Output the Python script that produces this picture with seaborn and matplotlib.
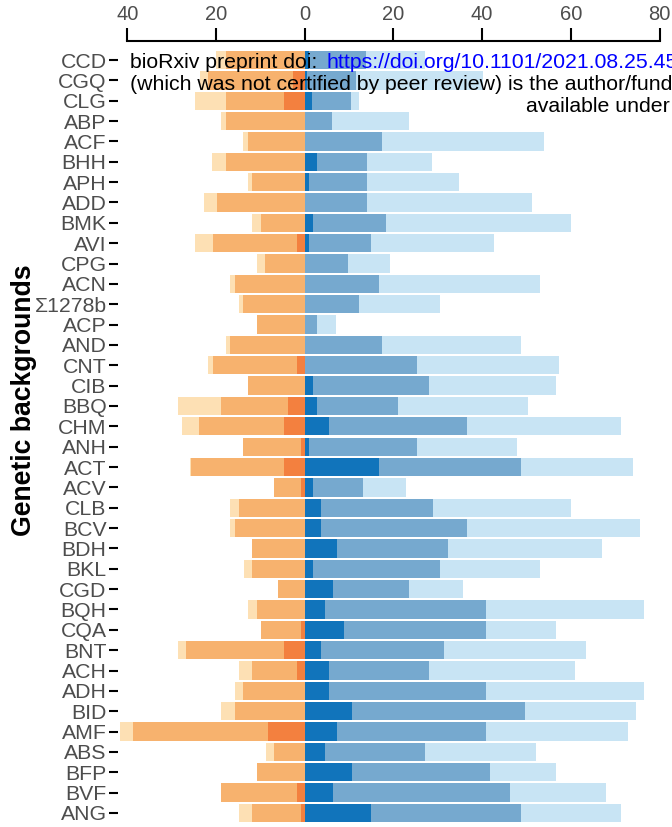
import numpy as np
import matplotlib
matplotlib.use("Agg")
import matplotlib.pyplot as plt
import seaborn as sns

# Genetic backgrounds, top to bottom
backgrounds = ["CCD", "CGQ", "CLG", "ABP", "ACF", "BHH", "APH", "ADD", "BMK", "AVI",
               "CPG", "ACN", "Σ1278b", "ACP", "AND", "CNT", "CIB", "BBQ", "CHM", "ANH",
               "ACT", "ACV", "CLB", "BCV", "BDH", "BKL", "CGD", "BQH", "CQA", "BNT",
               "ACH", "ADH", "BID", "AMF", "ABS", "BFP", "BVF", "ANG"]

# left side (plotted as negative), segments from 0 outwards
neg_dark = [0, 2.7, 4.6, 0, 0, 0, 0, 0, 0, 1.7,
            0, 0, 0, 0, 0, 1.7, 0, 3.8, 4.6, 0.9,
            4.6, 0.9, 0, 0, 0, 0, 0, 0, 0.9, 4.6,
            1.7, 0, 0, 8.3, 0, 0, 1.7, 0.9]
neg_mid = [17.8, 19.1, 13.2, 17.8, 12.8, 17.8, 11.9, 19.8, 9.9, 19.0,
           9.0, 15.7, 13.9, 10.7, 16.8, 19.0, 12.8, 15.0, 19.3, 13.0,
           21.0, 6.1, 14.8, 15.7, 11.9, 11.9, 6.0, 10.7, 9.0, 22.2,
           10.2, 13.9, 15.7, 30.4, 7.0, 10.7, 17.1, 11.0]
neg_light = [2.1, 1.7, 6.9, 1.0, 1.2, 3.1, 0.9, 2.9, 2.0, 4.0,
             1.7, 1.1, 0.9, 0, 1.0, 1.1, 0, 9.8, 3.7, 0,
             0.2, 0, 2.0, 1.1, 0, 1.8, 0, 2.0, 0, 1.8,
             2.9, 1.8, 3.1, 2.9, 1.7, 0, 0, 2.9]

# right side, segments from 0 outwards
pos_dark = [0.9, 0.5, 1.7, 0, 0, 2.8, 1.0, 0, 1.8, 1.0,
            0, 0, 0, 0, 0, 0, 1.8, 2.8, 5.5, 1.0,
            16.7, 1.8, 3.7, 3.7, 7.2, 1.8, 6.4, 4.5, 8.9, 3.7,
            5.5, 5.5, 10.6, 7.2, 4.5, 10.6, 6.4, 15.0]
pos_mid = [13.0, 11.0, 8.8, 6.2, 17.4, 11.2, 13.0, 14.0, 16.6, 14.0,
           9.8, 16.7, 12.3, 2.8, 17.4, 25.3, 26.2, 18.3, 31.1, 24.3,
           32.1, 11.3, 25.2, 32.9, 25.1, 28.7, 17.1, 36.4, 32.0, 27.7,
           22.5, 35.4, 39.1, 33.7, 22.6, 31.1, 39.9, 33.8]
pos_light = [13.2, 28.7, 1.8, 17.3, 36.5, 14.7, 20.8, 37.2, 41.6, 27.7,
             9.4, 36.3, 18.2, 4.3, 31.4, 32.0, 28.6, 29.2, 34.7, 22.5,
             25.2, 9.7, 31.1, 39.0, 34.8, 22.5, 12.2, 35.6, 15.7, 32.0,
             33.0, 35.6, 25.0, 32.1, 25.1, 14.9, 21.6, 22.5]

neg_colors = ["#f3803f", "#f7b26e", "#fde0b4"]
pos_colors = ["#1174bb", "#76a9cf", "#c8e4f4"]

sns.set_style("ticks")
plt.rcParams["font.family"] = ["Liberation Sans", "DejaVu Sans"]

W, H = 672, 827
fig = plt.figure(figsize=(W / 100, H / 100), dpi=100)
ax = fig.add_axes([118.4 / W, 0, 550 / W, 786 / H])

# cumulative layers, outermost first so the inner ones sit on top
nd, nm, nl = map(np.array, (neg_dark, neg_mid, neg_light))
pd_, pm, pl = map(np.array, (pos_dark, pos_mid, pos_light))
layers = [
    (-(nd + nm + nl), neg_colors[2]),
    (-(nd + nm), neg_colors[1]),
    (-nd, neg_colors[0]),
    (pd_ + pm + pl, pos_colors[2]),
    (pd_ + pm, pos_colors[1]),
    (pd_, pos_colors[0]),
]
for vals, col in layers:
    sns.barplot(x=vals, y=backgrounds, order=backgrounds, orient="h", color=col,
                saturation=1, width=0.9, errorbar=None, linewidth=0, ax=ax)

ax.set_xlim(-42, 82)
ax.set_ylim(37.69, -0.934)

ticks = [-40, -20, 0, 20, 40, 60, 80]
ax.set_xticks(ticks)
ax.set_xticklabels([str(abs(t)) for t in ticks])
ax.xaxis.tick_top()
ax.set_xlabel("")

for s in ["right", "bottom", "left"]:
    ax.spines[s].set_visible(False)
ax.spines["top"].set_bounds(-40, 80)
ax.spines["top"].set_linewidth(1.5)
ax.spines["top"].set_color("black")

ax.tick_params(axis="x", length=9.5, width=1.5, color="black", labelsize=14.5,
               labelcolor="#4d4d4d", pad=3)
ax.tick_params(axis="y", length=6.5, width=1.5, color="black", labelsize=15.3,
               labelcolor="#4d4d4d", pad=2)

ax.set_ylabel("Genetic backgrounds", fontsize=19.2, fontweight="bold", color="black")
ax.yaxis.set_label_coords(-0.148, 0.543)

# bioRxiv header stamped over the figure
fig.text(130 / W, 1 - 68 / H, "bioRxiv preprint doi:", fontsize=15.3,
         color="black", va="baseline", ha="left")
fig.text(326 / W, 1 - 68 / H, "https://doi.org/10.1101/2021.08.25.45", fontsize=15.3,
         color="#0000ff", va="baseline", ha="left")
fig.text(130 / W, 1 - 89.5 / H,
         "(which was not certified by peer review) is the author/funder, who has granted bioRxiv a license",
         fontsize=15.3, color="black", va="baseline", ha="left")
fig.text(526 / W, 1 - 112 / H, "available under aCC-BY-NC-ND 4.0 International license.",
         fontsize=15.3, color="black", va="baseline", ha="left")

fig.savefig("out.png", dpi=100)
